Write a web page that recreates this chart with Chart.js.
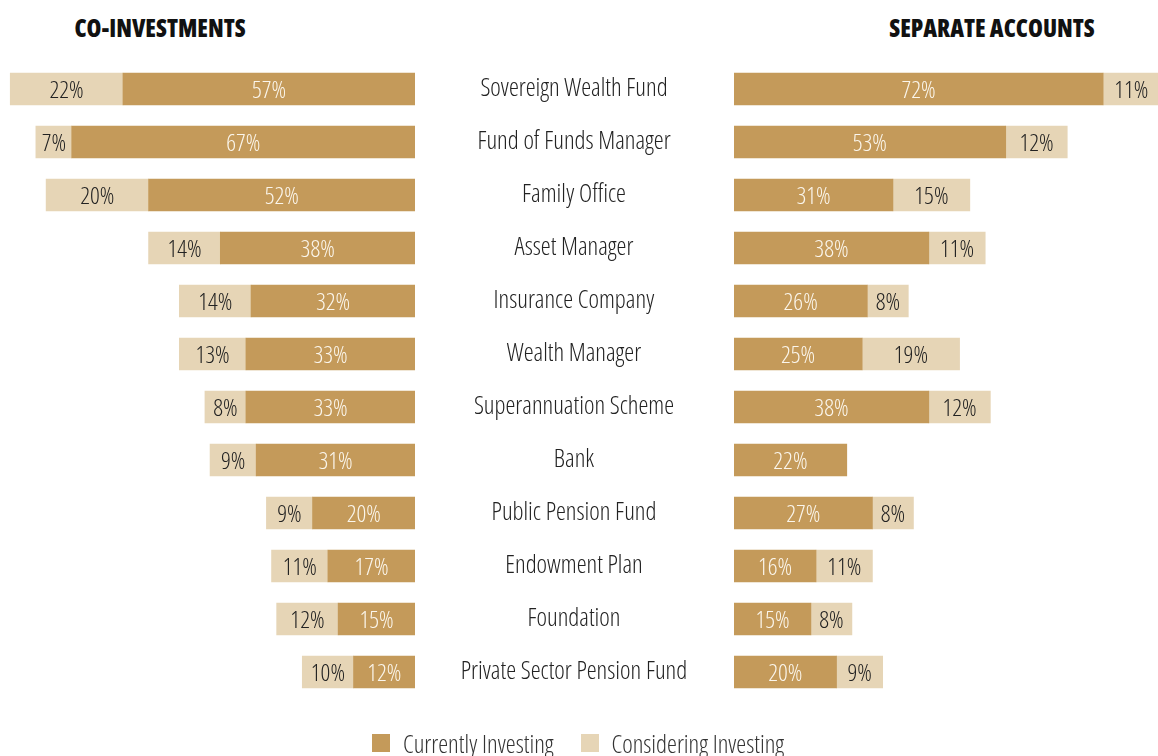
<!DOCTYPE html>
<html>
<head>
<meta charset="utf-8">
<script src="https://cdn.jsdelivr.net/npm/chart.js@4.4.1/dist/chart.umd.min.js"></script>
<style>
  body { margin: 0; background: #fff; width: 1158px; height: 756px; overflow: hidden; position: relative;
         font-family: 'Open Sans', 'DejaVu Sans Condensed', sans-serif; font-stretch: condensed; }
  .box { position: absolute; top: 0; height: 756px; }
  .title { position: absolute; top: 11px; width: 320px; text-align: center; font-size: 24px; font-weight: 800; color: #111; }
  #legend { position: absolute; top: 726px; left: 372px; display: flex; align-items: center; font-size: 25px; font-weight: 300; color: #333; white-space: nowrap; }
  #legend span.sw { display: inline-block; width: 18px; height: 18px; margin-right: 13px; }
  #legend span.txt { margin-right: 27px; }
</style>
</head>
<body>
<div class="title" style="left:0">CO-INVESTMENTS</div>
<div class="title" style="left:832px">SEPARATE ACCOUNTS</div>
<div class="box" style="left:0;width:415px"><canvas id="left"></canvas></div>
<div class="box" style="left:414px;width:744px"><canvas id="right"></canvas></div>
<div id="legend">
  <span class="sw" style="background:#C49A5A"></span><span class="txt">Currently Investing</span>
  <span class="sw" style="background:#E6D5B6"></span><span class="txt">Considering Investing</span>
</div>
<script>
const categories = ["Sovereign Wealth Fund", "Fund of Funds Manager", "Family Office", "Asset Manager",
  "Insurance Company", "Wealth Manager", "Superannuation Scheme", "Bank", "Public Pension Fund",
  "Endowment Plan", "Foundation", "Private Sector Pension Fund"];

const coCurrent     = [57, 67, 52, 38, 32, 33, 33, 31, 20, 17, 15, 12];
const coConsidering = [22,  7, 20, 14, 14, 13,  8,  9,  9, 11, 12, 10];
const sepCurrent     = [72, 53, 31, 38, 26, 25, 38, 22, 27, 16, 15, 20];
const sepConsidering = [11, 12, 15, 11,  8, 19, 12, null, 8, 11,  8,  9];

const CURRENT = '#C49A5A';
const CONSIDER = '#E6D5B6';

function setFont(ctx, size, weight) {
  ctx.font = weight + " " + size + "px 'Open Sans', 'DejaVu Sans Condensed', sans-serif";
  ctx.fontStretch = 'condensed';
}

// percent labels inside each bar segment
const valueLabels = {
  id: 'valueLabels',
  afterDatasetsDraw(chart) {
    const ctx = chart.ctx;
    ctx.save();
    setFont(ctx, 24, 300);
    ctx.textAlign = 'center';
    ctx.textBaseline = 'middle';
    chart.data.datasets.forEach((ds, i) => {
      chart.getDatasetMeta(i).data.forEach((bar, j) => {
        const v = ds.data[j];
        if (!v) return;
        ctx.fillStyle = ds.labelColor;
        ctx.fillText(v + '%', (bar.x + bar.base) / 2, bar.y + 2);
      });
    });
    ctx.restore();
  }
};

// category names centred in the y axis box
const categoryLabels = {
  id: 'categoryLabels',
  afterDraw(chart) {
    const y = chart.scales.y;
    const ctx = chart.ctx;
    ctx.save();
    setFont(ctx, 25, 300);
    ctx.fillStyle = '#222';
    ctx.textAlign = 'center';
    ctx.textBaseline = 'middle';
    const cx = (y.left + y.right) / 2;
    categories.forEach((c, i) => ctx.fillText(c, cx, y.getPixelForTick(i)));
    ctx.restore();
  }
};

function makeDatasets(cur, con) {
  return [
    { label: 'Currently Investing', data: cur, backgroundColor: CURRENT, labelColor: '#FBF6EC', barThickness: 32 },
    { label: 'Considering Investing', data: con, backgroundColor: CONSIDER, labelColor: '#222', barThickness: 32 }
  ];
}

const common = {
  indexAxis: 'y',
  responsive: true,
  maintainAspectRatio: false,
  animation: false,
  layout: { padding: { top: 62.5, bottom: 57.5, left: 0, right: 0 } },
  plugins: { legend: { display: false }, tooltip: { enabled: false } }
};

new Chart(document.getElementById('left'), {
  type: 'bar',
  data: { labels: categories, datasets: makeDatasets(coCurrent, coConsidering) },
  options: {
    ...common,
    scales: {
      x: { display: false, stacked: true, reverse: true, min: 0, max: 81 },
      y: { display: false, stacked: true }
    }
  },
  plugins: [valueLabels]
});

new Chart(document.getElementById('right'), {
  type: 'bar',
  data: { labels: categories, datasets: makeDatasets(sepCurrent, sepConsidering) },
  options: {
    ...common,
    scales: {
      x: { display: false, stacked: true, min: 0, max: 82.7 },
      y: {
        stacked: true,
        grid: { display: false },
        border: { display: false },
        ticks: { display: false },
        afterFit(s) { s.width = 320; }
      }
    }
  },
  plugins: [valueLabels, categoryLabels]
});
</script>
</body>
</html>
